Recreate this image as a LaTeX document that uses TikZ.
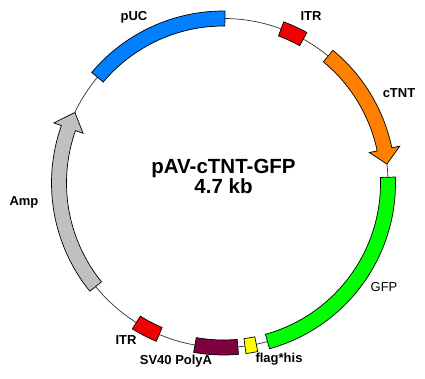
\documentclass[tikz,border=0pt]{standalone}
\usepackage{fontspec}
\setmainfont{Liberation Sans}
\usepackage{xcolor}
\usepackage{tikz}

\definecolor{pucblue}{RGB}{0,128,255}
\definecolor{itrred}{RGB}{240,0,0}
\definecolor{ctntorange}{RGB}{255,128,0}
\definecolor{gfpgreen}{RGB}{0,255,0}
\definecolor{flagyellow}{RGB}{255,255,0}
\definecolor{polyamaroon}{RGB}{128,0,64}
\definecolor{ampgray}{RGB}{192,192,192}
\definecolor{backbonegray}{RGB}{50,50,50}

\tikzset{
  backbone/.style={draw=backbonegray, line width=0.7pt},
  feature/.style={draw=black, line width=0.7pt, line join=miter},
  featlabel/.style={font=\fontsize{13}{15}\selectfont\bfseries},
  plainlabel/.style={font=\fontsize{13}{15}\selectfont},
  titlelabel/.style={font=\fontsize{20.5}{19}\selectfont\bfseries, align=center}
}

\begin{document}
\begin{tikzpicture}[x=1pt, y=1pt]
 \useasboundingbox (-223.5,-196) rectangle (201.5,183);
 % backbone
 \draw [backbone] (0,0) circle (164.5pt);
 % pUC
 \draw [feature, fill=pucblue] (140:172pt) arc [start angle=140, end angle=89.5, radius=172pt]
   -- (89.5:157pt) arc [start angle=89.5, end angle=140, radius=157pt] -- cycle;
 % ITR (top)
 \draw [feature, fill=itrred] (69.5:172pt) arc [start angle=69.5, end angle=61, radius=172pt]
   -- (61:157pt) arc [start angle=61, end angle=69.5, radius=157pt] -- cycle;
 % cTNT
 \draw [feature, fill=ctntorange] (50.5:172pt) arc [start angle=50.5, end angle=11.8, radius=172pt]
   -- (11.8:180pt) -- (6.6:164.5pt) -- (11.8:149pt) -- (11.8:157pt)
   arc [start angle=11.8, end angle=50.5, radius=157pt] -- cycle;
 % GFP
 \draw [feature, fill=gfpgreen] (2:172pt) arc [start angle=2, end angle=-74.5, radius=172pt]
   -- (-74.5:157pt) arc [start angle=-74.5, end angle=2, radius=157pt] -- cycle;
 % flag*his
 \draw [feature, fill=flagyellow] (-78.5:172pt) arc [start angle=-78.5, end angle=-82.5, radius=172pt]
   -- (-82.5:157pt) arc [start angle=-82.5, end angle=-78.5, radius=157pt] -- cycle;
 % SV40 PolyA
 \draw [feature, fill=polyamaroon] (-85:172pt) arc [start angle=-85, end angle=-100, radius=172pt]
   -- (-100:157pt) arc [start angle=-100, end angle=-85, radius=157pt] -- cycle;
 % ITR (bottom)
 \draw [feature, fill=itrred] (-113:172pt) arc [start angle=-113, end angle=-122, radius=172pt]
   -- (-122:157pt) arc [start angle=-122, end angle=-113, radius=157pt] -- cycle;
 % Amp
 \draw [feature, fill=ampgray] (219:172pt) arc [start angle=219, end angle=160.5, radius=172pt]
   -- (160.5:180pt) -- (154.6:164.5pt) -- (160.5:149pt) -- (160.5:157pt)
   arc [start angle=160.5, end angle=219, radius=157pt] -- cycle;
 % labels
 \draw (-89.5,166) node [featlabel] (pucLabel) {pUC};
 \draw (87.5,167) node [featlabel] (itrTopLabel) {ITR};
 \draw (175.5,90) node [featlabel] (ctntLabel) {cTNT};
 \draw (160.5,-104) node [plainlabel] (gfpLabel) {GFP};
 \draw (55.5,-176) node [featlabel] (flagLabel) {flag*his};
 \draw (-47.5,-178) node [featlabel] (polyaLabel) {SV40 PolyA};
 \draw (-97.5,-157) node [featlabel] (itrBottomLabel) {ITR};
 \draw (-199.5,-19) node [featlabel] (ampLabel) {Amp};
 \draw (0,7) node [titlelabel] (plasmidTitle) {pAV-cTNT-GFP\\4.7 kb};
\end{tikzpicture}
\end{document}
